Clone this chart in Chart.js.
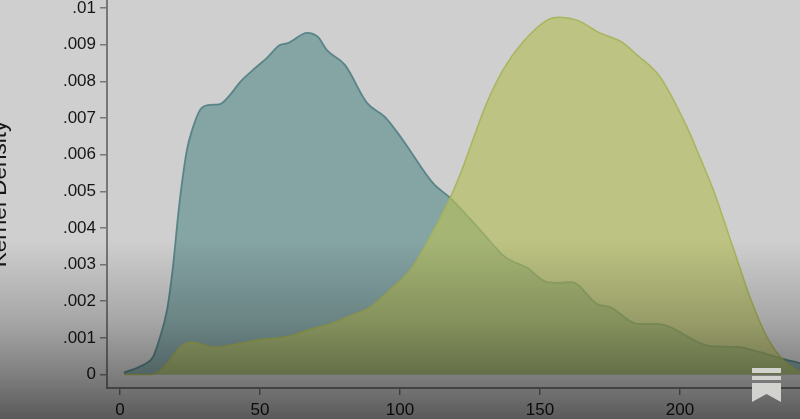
<!DOCTYPE html>
<html>
<head>
<meta charset="utf-8">
<title>Kernel Density</title>
<script src="https://cdn.jsdelivr.net/npm/chart.js@4/dist/chart.umd.min.js"></script>
<style>
  html, body { margin: 0; padding: 0; background: #9a9a9a; overflow: hidden; }
  canvas { display: block; filter: blur(0.6px); }
</style>
</head>
<body>
<canvas id="chart" width="800" height="419"></canvas>
<script>
// density values are in thousandths
const tealX = [1.4, 8.2, 11.8, 14.3, 16.8, 18.9, 20.7, 21.8, 23.9, 26.1, 28.6, 31.4, 35.7, 39.3, 42.9, 47.5, 52.5, 57.1, 60, 66.8, 70.7, 73.9, 80.4, 88.2, 94.6, 101, 111.8, 117.9, 129.6, 137.5, 145.4, 152.5, 157, 161.4, 170.4, 175, 185, 191.8, 210.7, 220.4, 228.6, 235.7, 242.9];
const tealY = [0.05, 0.26, 0.48, 1.02, 1.76, 2.93, 4.3, 5.03, 6.13, 6.75, 7.22, 7.35, 7.38, 7.63, 7.98, 8.31, 8.64, 8.99, 9.04, 9.32, 9.21, 8.85, 8.44, 7.41, 7.03, 6.4, 5.22, 4.82, 3.86, 3.21, 2.91, 2.52, 2.5, 2.52, 1.92, 1.84, 1.38, 1.38, 0.78, 0.75, 0.61, 0.45, 0.31];
const oliveX = [1.4, 8.2, 11.8, 16.8, 21.4, 25.7, 33.2, 39.3, 48.9, 60.7, 66.8, 75, 82.1, 89.3, 96.4, 103.6, 108.2, 117.9, 122.1, 126, 131, 136.8, 143.9, 152.5, 156.4, 163.2, 171.4, 179.3, 184.6, 192.9, 202.5, 207.1, 211.8, 218.9, 225, 231.1, 236.8, 242.9];
const oliveY = [0, 0, 0.01, 0.31, 0.75, 0.89, 0.75, 0.8, 0.94, 1.05, 1.21, 1.38, 1.6, 1.84, 2.31, 2.85, 3.4, 4.82, 5.58, 6.4, 7.41, 8.31, 9.07, 9.67, 9.75, 9.67, 9.32, 9.07, 8.72, 8.12, 6.75, 5.93, 5.06, 3.48, 2.11, 1.02, 0.4, 0.07];
const xTicks = [0, 50, 100, 150, 200];
const yTicks = [0, 0.001, 0.002, 0.003, 0.004, 0.005, 0.006, 0.007, 0.008, 0.009, 0.01];

const axisGray = "#777";
const textColor = "#161616";
const tickFont = { family: "'Liberation Sans', Helvetica, Arial, sans-serif", size: 17 };

const toPoints = (xs, ys) => xs.map((x, i) => ({ x: x, y: ys[i] / 1000 }));
const useTicks = (list) => (s) => { s.ticks = list.map((v) => ({ value: v })); };

// flat page colour behind the plot
const backdrop = {
  id: "backdrop",
  beforeDraw(chart) {
    const c = chart.ctx;
    c.save();
    c.fillStyle = "#cfcfcf";
    c.fillRect(0, 0, chart.width, chart.height);
    c.restore();
  }
};

// dark fade over the bottom of the image, then the bookmark badge on top
const overlay = {
  id: "overlay",
  afterDraw(chart) {
    const c = chart.ctx;
    const g = c.createLinearGradient(0, 240, 0, 419);
    g.addColorStop(0, "rgba(0,0,0,0)");
    g.addColorStop(0.46, "rgba(0,0,0,0.2)");
    g.addColorStop(0.77, "rgba(0,0,0,0.4)");
    g.addColorStop(1, "rgba(0,0,0,0.57)");
    c.save();
    c.fillStyle = g;
    c.fillRect(0, 240, chart.width, 179);
    c.fillStyle = "#d2d2ce";
    c.fillRect(752, 368, 29, 5);
    c.fillRect(752, 376, 29, 4);
    c.beginPath();
    c.moveTo(752, 383);
    c.lineTo(781, 383);
    c.lineTo(781, 402);
    c.lineTo(766.5, 394);
    c.lineTo(752, 402);
    c.closePath();
    c.fill();
    c.restore();
  }
};

new Chart(document.getElementById("chart"), {
  type: "line",
  data: {
    datasets: [
      {
        label: "olive",
        data: toPoints(oliveX, oliveY),
        borderColor: "rgba(165,178,85,0.9)",
        backgroundColor: "rgba(180,190,92,0.67)",
        borderWidth: 1.5,
        fill: "origin",
        pointRadius: 0,
        cubicInterpolationMode: "monotone"
      },
      {
        label: "teal",
        data: toPoints(tealX, tealY),
        borderColor: "rgba(85,130,133,0.95)",
        backgroundColor: "rgba(72,129,129,0.55)",
        borderWidth: 1.8,
        fill: "origin",
        pointRadius: 0,
        cubicInterpolationMode: "monotone"
      }
    ]
  },
  options: {
    responsive: false,
    animation: false,
    layout: { padding: 0, autoPadding: false },
    plugins: { legend: { display: false }, tooltip: { enabled: false } },
    scales: {
      x: {
        type: "linear",
        min: -4.64,
        max: 242.86,
        afterBuildTicks: useTicks(xTicks),
        afterFit: (s) => { s.height = 31; s.paddingLeft = 0; s.paddingRight = 0; },
        border: { color: axisGray, width: 2 },
        grid: { drawOnChartArea: false, color: axisGray, tickLength: 7, lineWidth: 1.5 },
        ticks: { color: textColor, font: tickFont, padding: 5, maxRotation: 0, autoSkip: false }
      },
      y: {
        type: "linear",
        min: -0.000368,
        max: 0.010218,
        afterBuildTicks: useTicks(yTicks),
        // ticks sit right up to the top edge, so drop the room kept for the labels
        afterFit: (s) => { s.width = 107; s.paddingTop = 0; s.paddingBottom = 0; },
        border: { color: axisGray, width: 2 },
        grid: { drawOnChartArea: false, color: axisGray, tickLength: 7, lineWidth: 1.5 },
        title: {
          display: true,
          text: "Kernel Density",
          color: textColor,
          font: { family: tickFont.family, size: 22.5 },
          padding: { top: -14, bottom: 0 }
        },
        ticks: {
          autoSkip: false,
          color: textColor,
          font: tickFont,
          padding: 4,
          callback: (v) => String(+v.toFixed(3)).replace(/^0\./, ".")
        }
      }
    }
  },
  plugins: [backdrop, overlay]
});
</script>
</body>
</html>
